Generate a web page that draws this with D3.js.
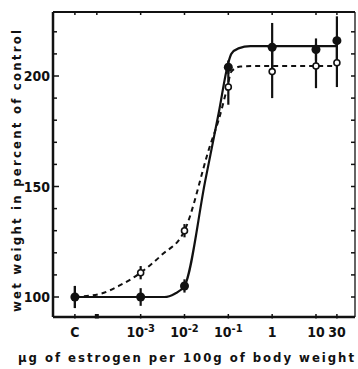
<!DOCTYPE html>
<html>
<head>
<meta charset="utf-8">
<script src="https://cdn.jsdelivr.net/npm/d3@7"></script>
<style>
  body { margin: 0; background: #fff; }
  text { font-family: "DejaVu Sans Condensed", "DejaVu Sans", sans-serif; font-weight: bold; fill: #111; }
</style>
</head>
<body>
<div id="chart"></div>
<script>
// doses (ug / 100g body weight), "C" = control
const doses = ["C", 1e-3, 1e-2, 1e-1, 1, 10, 30];
// filled circles, solid curve
const solidMean = [100, 100, 105, 204, 213, 212, 216];
const solidErr = [5, 4, 3, 3, 11, 5, 11];
// open circles, dashed curve
const openMean = [100, 111, 130, 195, 202, 204.5, 206];
const openErr = [5, 3, 3, 8, 12, 10, 11];

// fitted curves
const solidFitDose = ["C", 1e-3, 3.5e-3, 6e-3, 1e-2, 0.03, 0.06, 0.1, 0.117, 0.17, 0.32, 1, 30];
const solidFitVal = [100, 100, 100, 101.5, 105, 153, 183, 206, 210, 212.5, 213.5, 213.5, 213.5];
const dashedFitDose = ["C", 1.23e-4, 3.16e-4, 1e-3, 3e-3, 1e-2, 0.039, 0.06, 0.095, 0.117, 0.19, 0.4, 30];
const dashedFitVal = [100, 101.5, 105, 111, 119, 130, 169, 180, 195, 202, 204.3, 204.5, 204.5];

const xTicks = ["C", 1e-4, 1e-3, 1e-2, 1e-1, 1, 10, 30];
const yTicks = d3.range(100, 230, 10);
const yLabels = [100, 150, 200];

const W = 358, H = 369;
const margin = { top: 12, right: 3, bottom: 52, left: 53 };
const width = W - margin.left - margin.right;
const height = H - margin.top - margin.bottom;

// where the control group sits on the log axis
const controlAt = 3.16e-5;

const x = d3.scaleLog().domain([1e-5, Math.pow(10, 1.89)]).range([0, width]);
const y = d3.scaleLinear().domain([90.95, 228.96]).range([height, 0]);
const xOf = d => x(d === "C" ? controlAt : d);

const svg = d3.select("#chart").append("svg")
  .attr("width", W).attr("height", H)
  .append("g").attr("transform", "translate(" + margin.left + "," + margin.top + ")");

// frame
svg.append("line").attr("x1", 0).attr("x2", 0).attr("y1", 0).attr("y2", height)
  .attr("stroke", "#111").attr("stroke-width", 2.5);
svg.append("line").attr("x1", 0).attr("x2", width).attr("y1", height).attr("y2", height)
  .attr("stroke", "#111").attr("stroke-width", 2.5);
svg.append("line").attr("x1", 0).attr("x2", width).attr("y1", 0).attr("y2", 0)
  .attr("stroke", "#111").attr("stroke-width", 2);
svg.append("line").attr("x1", width).attr("x2", width).attr("y1", 0).attr("y2", height)
  .attr("stroke", "#111").attr("stroke-width", 1.3);

// y ticks, both sides inward
svg.selectAll(".ytl").data(yTicks).enter().append("line")
  .attr("x1", 0).attr("x2", d => yLabels.includes(d) ? 6 : 4)
  .attr("y1", d => y(d)).attr("y2", d => y(d))
  .attr("stroke", "#111").attr("stroke-width", 1.5);
svg.selectAll(".ytr").data(yTicks).enter().append("line")
  .attr("x1", width).attr("x2", width - 4)
  .attr("y1", d => y(d)).attr("y2", d => y(d))
  .attr("stroke", "#111").attr("stroke-width", 1.5);
svg.selectAll(".ylab").data(yLabels).enter().append("text")
  .attr("x", -3).attr("y", d => y(d)).attr("dy", "0.36em")
  .attr("text-anchor", "end").style("font-size", "14px")
  .text(d => d);

// x ticks top and bottom
svg.selectAll(".xtb").data(xTicks).enter().append("line")
  .attr("x1", d => xOf(d)).attr("x2", d => xOf(d))
  .attr("y1", height + 1.5).attr("y2", height - 3)
  .attr("stroke", "#111").attr("stroke-width", d => d === 1e-4 ? 4 : 1.5);
svg.selectAll(".xtt").data(xTicks).enter().append("line")
  .attr("x1", d => xOf(d)).attr("x2", d => xOf(d))
  .attr("y1", 0).attr("y2", 3)
  .attr("stroke", "#111").attr("stroke-width", 1.5);

const xlab = svg.selectAll(".xlab").data(xTicks.filter(d => d !== 1e-4)).enter().append("text")
  .attr("x", d => xOf(d)).attr("y", height + 20)
  .attr("text-anchor", "middle").style("font-size", "14px");
xlab.each(function(d) {
  const t = d3.select(this);
  if (d === "C" || d >= 1) {
    t.text(d);
  } else {
    t.append("tspan").text("10");
    t.append("tspan").attr("dy", -5).style("font-size", "11px").text("-" + Math.round(-Math.log10(d)));
  }
});

// axis titles
svg.append("text")
  .attr("x", 186 - margin.left).attr("y", height + 45)
  .attr("text-anchor", "middle").style("font-size", "13px")
  .attr("textLength", 336).attr("lengthAdjust", "spacing")
  .text("\u00b5g of estrogen per 100g of body weight");
svg.append("text")
  .attr("transform", "translate(" + (21 - margin.left) + "," + (171 - margin.top) + ") rotate(-90)")
  .attr("text-anchor", "middle").style("font-size", "13px")
  .attr("textLength", 282).attr("lengthAdjust", "spacing")
  .text("wet weight in percent of control");

// fitted curves
const line = d3.line().curve(d3.curveMonotoneX)
  .x(d => xOf(d[0])).y(d => y(d[1]));
svg.append("path")
  .attr("d", line(dashedFitDose.map((d, i) => [d, dashedFitVal[i]])))
  .attr("fill", "none").attr("stroke", "#111").attr("stroke-width", 2)
  .attr("stroke-dasharray", "5,4");
svg.append("path")
  .attr("d", line(solidFitDose.map((d, i) => [d, solidFitVal[i]])))
  .attr("fill", "none").attr("stroke", "#111").attr("stroke-width", 2.2);

// error bars
const errBars = (mean, err) => svg.append("g").selectAll("line").data(doses).enter().append("line")
  .attr("x1", d => xOf(d)).attr("x2", d => xOf(d))
  .attr("y1", (d, i) => y(mean[i] - err[i])).attr("y2", (d, i) => y(mean[i] + err[i]))
  .attr("stroke", "#111").attr("stroke-width", 2.2);
errBars(openMean, openErr);
errBars(solidMean, solidErr);

// points
svg.append("g").selectAll("circle").data(doses).enter().append("circle")
  .attr("cx", d => xOf(d)).attr("cy", (d, i) => y(openMean[i])).attr("r", 3)
  .attr("fill", "#fff").attr("stroke", "#111").attr("stroke-width", 1.6);
svg.append("g").selectAll("circle").data(doses).enter().append("circle")
  .attr("cx", d => xOf(d)).attr("cy", (d, i) => y(solidMean[i])).attr("r", 4.5)
  .attr("fill", "#111");
</script>
</body>
</html>
